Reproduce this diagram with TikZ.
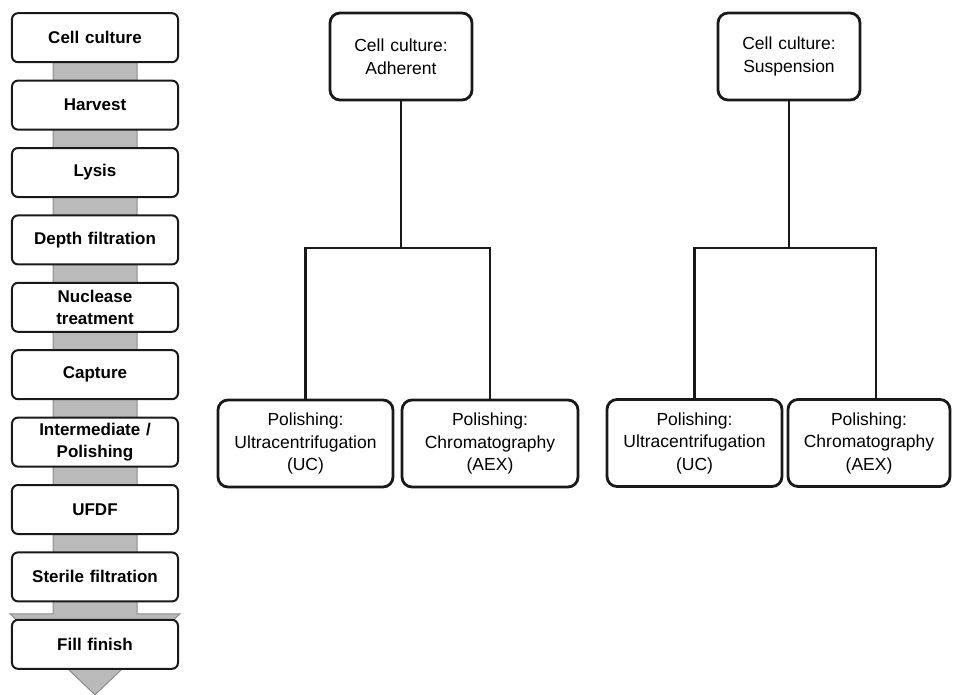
\documentclass[tikz,border=0pt]{standalone}
\usepackage{fontspec}
\setmainfont{Liberation Sans}
\usetikzlibrary{shapes,arrows,backgrounds}

\begin{document}
\begin{tikzpicture}[x=1pt,y=1pt,
    block_step/.style ={rectangle, draw=black!90, line width=2pt, rounded corners=6pt, fill=white,
      text width=160pt, align=center, inner sep=3pt, minimum height=49pt,
      font=\fontsize{17}{21.5}\selectfont\bfseries},
    block_tree/.style ={rectangle, draw=black!90, line width=2.8pt, rounded corners=10pt, fill=white,
      align=center, inner sep=4pt, minimum height=87pt,
      font=\fontsize{17.5}{22.5}\selectfont},
    band/.style ={fill=black!27, draw=black!45, line width=1pt},
    line/.style ={draw, line width=2.8pt, black!90}]
    \useasboundingbox (0,0) rectangle (953,-694);
    % process steps on the left
    \matrix [row sep=16.4pt, inner sep=0pt, anchor=north] at (95,-12) {
      \node [block_step] (culture) {Cell culture};\\
      \node [block_step] (harvest) {Harvest};\\
      \node [block_step] (lysis) {Lysis};\\
      \node [block_step] (depth) {Depth filtration};\\
      \node [block_step] (nuclease) {Nuclease\\treatment};\\
      \node [block_step] (capture) {Capture};\\
      \node [block_step] (polishing) {Intermediate /\\Polishing};\\
      \node [block_step] (ufdf) {UFDF};\\
      \node [block_step] (sterile) {Sterile filtration};\\
      \node [block_step] (finish) {Fill finish};\\
    };% end matrix
    % grey arrow behind the steps
    \begin{pgfonlayer}{background}
      \path [band] ([xshift=-42pt]culture.center)
        -- ([xshift=-42pt,yshift=5pt]finish.north)
        -- ([xshift=-85pt,yshift=5pt]finish.north)
        -- ([yshift=-25pt]finish.south)
        -- ([xshift=85pt,yshift=5pt]finish.north)
        -- ([xshift=42pt,yshift=5pt]finish.north)
        -- ([xshift=42pt]culture.center) -- cycle;
    \end{pgfonlayer}
    % adherent tree
    \node [block_tree, text width=134pt] (adh) at (401,-56.5) {Cell culture:\\Adherent};
    \node [block_tree, text width=167pt] (uc_adh) at (305.5,-443.5) {Polishing:\\Ultracentrifugation\\(UC)};
    \node [block_tree, text width=168pt] (aex_adh) at (490,-443.5) {Polishing:\\Chromatography\\(AEX)};
    \coordinate (split_adh) at (401,-248);
    % suspension tree
    \node [block_tree, text width=134pt] (sus) at (789,-56.5) {Cell culture:\\Suspension};
    \node [block_tree, text width=167pt] (uc_sus) at (694.5,-443) {Polishing:\\Ultracentrifugation\\(UC)};
    \node [block_tree, text width=154pt] (aex_sus) at (869,-443) {Polishing:\\Chromatography\\(AEX)};
    \coordinate (split_sus) at (789,-248);
    % connecting nodes with paths
    \begin{scope}[every path/.style=line]
      \path (adh) -- (split_adh);
      \path (uc_adh.north) |- (split_adh) -| (aex_adh.north);
      \path (sus) -- (split_sus);
      \path (uc_sus.north) |- (split_sus) -| ([xshift=7pt]aex_sus.north);
    \end{scope}
\end{tikzpicture}
\end{document}
